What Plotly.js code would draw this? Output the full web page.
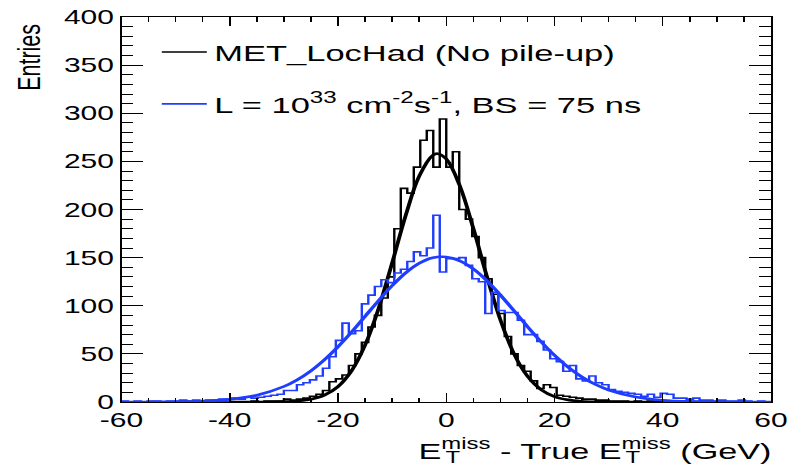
<!DOCTYPE html>
<html><head><meta charset="utf-8">
<script src="https://cdn.plot.ly/plotly-3.0.1.min.js"></script>
<style>
html,body{margin:0;padding:0;background:#fff;overflow:hidden;}
#wrap{width:792px;height:466px;overflow:hidden;position:relative;}
#chart{height:466px;transform-origin:0 0;}
</style></head><body><div id="wrap"><div id="chart"></div></div>
<script>
// histogram definition: 100 bins from -60 to 60
const xMin = -60, xMax = 60, nBins = 100;

// MET_LocHad (No pile-up) -- black
const blackCounts = [
  0,0,0,0,0,0,0,0,0,0,
  0,0,0,0,0,0,0,0,0,0,
  1,0,1,1,1,3,2,3,4,6,
  8,12,21,24,28,38,50,62,78,90,
  108,130,180,222,217,244,272,282,244,294,
  244,260,200,190,172,150,128,112,92,68,
  50,38,32,22,14,18,15,7,6,5,
  4,3,3,2,2,1,1,1,0,1,
  0,1,0,0,0,0,0,0,0,0,
  0,0,0,0,0,0,0,0,0,0
];
// L = 10^33, BS = 75 ns -- blue
const blueCounts = [
  1,0,1,0,1,1,0,1,1,2,
  1,2,1,2,2,3,3,4,3,5,
  4,5,6,7,8,12,12,18,20,23,
  27,35,47,64,82,71,74,102,111,120,
  127,124,134,138,146,156,152,160,194,135,
  149,149,150,142,128,125,92,114,95,93,
  93,85,70,70,63,54,45,42,32,38,
  24,22,27,20,18,13,11,10,9,8,
  6,8,5,9,8,4,4,3,4,2,
  2,1,2,1,1,2,1,0,1,0
];

// Gaussian fit curves
const blackFitX = [-40,-35,-30,-27.5,-25,-22.5,-20,-17.5,-15,-12.5,-10,-7.5,-5,-2.5,-1.6,0,2.5,5,7.5,10,12.5,15,17.5,20,22.5,25,27.5,30,35,40];
const blackFitY = [0,0.03,0.34,1.0,2.9,7.1,16.0,32.3,59.0,97.2,144.4,193.8,234.6,256.3,258,252.6,224.7,180.4,130.6,85.4,50.3,26.8,12.9,5.6,2.2,0.8,0.25,0.07,0,0];
const blueFitX = [-60,-55,-50,-45,-40,-35,-30,-27.5,-25,-22.5,-20,-17.5,-15,-12.5,-10,-7.5,-5,-2.5,0,2.5,5,7.5,10,12.5,15,17.5,20,22.5,25,27.5,30,35,40,45,50,55,60];
const blueFitY = [0.02,0.07,0.26,0.9,2.7,7.0,16.1,23.2,32.4,43.9,57.4,72.6,89.0,105.4,120.9,134.2,144.2,149.9,150.7,146.7,138.2,126.0,111.2,94.9,78.4,62.7,48.5,36.3,26.3,18.4,12.5,5.2,1.9,0.6,0.17,0.04,0.01];

const xTickVals = [-60,-40,-20,0,20,40,60];
const xTickText = ['-60','-40','-20','0','20','40','60'];

const blackName = 'MET_LocHad (No pile-up)';
const blueName = 'L = 10<sup>33</sup> cm<sup>-2</sup>s<sup>-1</sup>, BS = 75 ns';

const BLACK = '#000000', BLUE = '#1f3dff';

// horizontal stretch of the original picture
const S = 1.5;
const W = 792 / S;
const chartDiv = document.getElementById('chart');
chartDiv.style.width = W + 'px';
chartDiv.style.transform = 'scaleX(' + S + ')';

function stepTrace(counts, color, name, group) {
  const bw = (xMax - xMin) / nBins;
  const xs = [], ys = [];
  for (let i = 0; i <= nBins; i++) {
    xs.push(xMin + i * bw);
    ys.push(i < nBins ? counts[i] : counts[nBins - 1]);
  }
  return {type: 'scatter', mode: 'lines', x: xs, y: ys, name: name,
    legendgroup: group, line: {shape: 'hv', color: color, width: 1.6},
    hoverinfo: 'skip', cliponaxis: true};
}
function fitTrace(xs, ys, color, group) {
  return {type: 'scatter', mode: 'lines', x: xs, y: ys, showlegend: false,
    legendgroup: group, line: {shape: 'spline', smoothing: 1, color: color, width: 2.6},
    hoverinfo: 'skip'};
}

const data = [
  stepTrace(blackCounts, BLACK, blackName, 'a'),
  fitTrace(blackFitX, blackFitY, BLACK, 'a'),
  stepTrace(blueCounts, BLUE, blueName, 'b'),
  fitTrace(blueFitX, blueFitY, BLUE, 'b')
];

const FONT = 'Liberation Sans, Arial, Helvetica, sans-serif';
const plotL = 121, plotR = 770.5;
const TF = 22.8;

const layout = {
  width: W, height: 466,
  margin: {l: plotL / S, r: (792 - plotR) / S, t: 17, b: 64, pad: 0},
  paper_bgcolor: '#ffffff', plot_bgcolor: '#ffffff',
  font: {family: FONT, size: 20, color: '#000'},
  xaxis: {
    range: [xMin, xMax], tickmode: 'array', tickvals: xTickVals, ticktext: xTickText,
    ticks: 'inside', ticklen: 9, tickwidth: 1, tickcolor: '#000',
    showline: true, linecolor: '#000', linewidth: 1, mirror: 'ticks',
    showgrid: false, zeroline: false, tickfont: {family: FONT, size: 20, color: '#000'},
    minor: {dtick: 5, tick0: -60, ticks: 'inside', ticklen: 4.5, tickwidth: 1, tickcolor: '#000', showgrid: false}
  },
  yaxis: {
    range: [0, 400], tick0: 0, dtick: 50,
    ticks: 'inside', ticklen: 14.5, tickwidth: 1, tickcolor: '#000',
    showline: true, linecolor: '#000', linewidth: 1, mirror: 'ticks',
    showgrid: false, zeroline: false, tickfont: {family: FONT, size: 20, color: '#000'},
    minor: {dtick: 10, tick0: 0, ticks: 'inside', ticklen: 7.8, tickwidth: 1, tickcolor: '#000', showgrid: false}
  },
  showlegend: true,
  legend: {x: 0.0505, y: 0.965, xanchor: 'left', yanchor: 'top', bgcolor: 'rgba(0,0,0,0)',
    borderwidth: 0, font: {family: FONT, size: 23, color: '#000'}, tracegroupgap: 19, traceorder: 'grouped'},
  annotations: [
    {text: 'Entries', textangle: -90, xref: 'paper', yref: 'paper', x: 0, y: 1,
     xanchor: 'center', yanchor: 'top', xshift: (28.5 - plotL) / S, yshift: -5,
     showarrow: false, font: {family: FONT, size: 21.5, color: '#000'}},
    {text: 'E<sup>miss</sup> - True E<sup>miss</sup> (GeV)', xref: 'paper', yref: 'paper',
     x: 1, y: 0, xanchor: 'right', yanchor: 'top', xshift: 2, yshift: -31,
     showarrow: false, font: {family: FONT, size: TF, color: '#000'}},
    {text: 'T', xref: 'paper', yref: 'paper', x: 1, y: 0, xanchor: 'left', yanchor: 'top',
     xshift: -217.7, yshift: -45.5, borderpad: 0, showarrow: false, font: {family: FONT, size: TF * 0.7, color: '#000'}},
    {text: 'T', xref: 'paper', yref: 'paper', x: 1, y: 0, xanchor: 'left', yanchor: 'top',
     xshift: -97.7, yshift: -45.5, borderpad: 0, showarrow: false, font: {family: FONT, size: TF * 0.7, color: '#000'}}
  ]
};

Plotly.newPlot(chartDiv, data, layout, {displayModeBar: false, staticPlot: true});
</script>
</body></html>
